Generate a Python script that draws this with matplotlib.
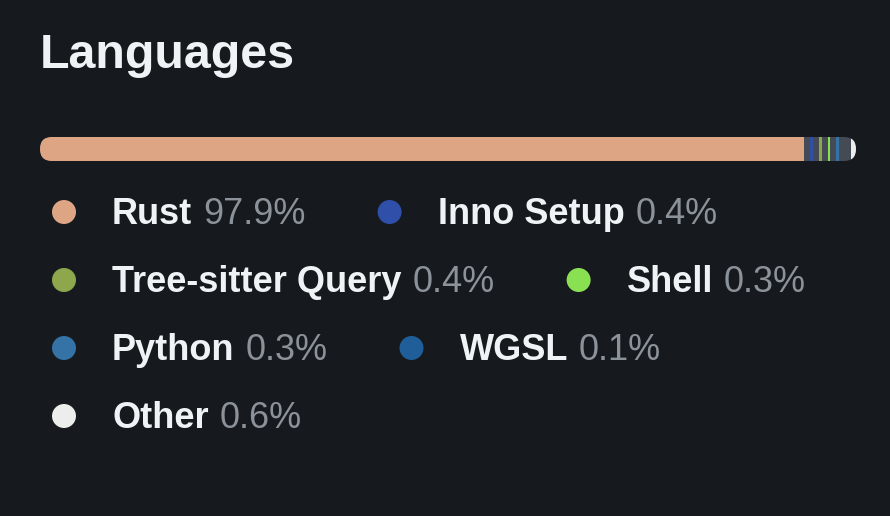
import matplotlib
matplotlib.use("Agg")
import matplotlib.pyplot as plt
from matplotlib.patches import FancyBboxPatch, Circle

plt.rcParams['font.family'] = ['Liberation Sans', 'DejaVu Sans']

# data
languages = ['Rust', 'Inno Setup', 'Tree-sitter Query', 'Shell', 'Python', 'WGSL', 'Other']
percents = [97.9, 0.4, 0.4, 0.3, 0.3, 0.1, 0.6]
colors = ['#dea584', '#2f4fa8', '#8ea64c', '#89e051', '#3572a5', '#1f5e98', '#ededed']
rows = [[0, 1], [2, 3], [4, 5], [6]]

BG = '#16191d'
TRACK = '#454b54'
NAME_C = '#f0f3f6'
PCT_C = '#8b929a'

W, H = 890, 516
fig = plt.figure(figsize=(W / 100, H / 100), dpi=100, facecolor=BG)
ax = fig.add_axes([0, 0, 1, 1])
ax.set_xlim(0, W)
ax.set_ylim(H, 0)
ax.axis('off')
ax.set_facecolor(BG)

ax.text(40, 68, 'Languages', fontsize=34.8, fontweight='bold', color=NAME_C, va='baseline')

# progress bar
bx0, bx1, by, bh = 40, 856, 149, 24
gap = 6
track = FancyBboxPatch((bx0, by - bh / 2), bx1 - bx0, bh,
                       boxstyle='round,pad=0,rounding_size=12',
                       fc=TRACK, ec='none', mutation_aspect=1)
ax.add_patch(track)
usable = (bx1 - bx0) - gap * (len(percents) - 1)
left = bx0
for p, c in zip(percents, colors):
    w = usable * p / 100.0
    seg = ax.barh(by, w, height=bh, left=left, color=c, linewidth=0)
    for r in seg:
        r.set_clip_path(track)
    left += w + gap

# legend
fig.canvas.draw()
renderer = fig.canvas.get_renderer()
fs = 26
for ri, row in enumerate(rows):
    base = 224 + ri * 68
    cx = 64
    for i in row:
        ax.add_patch(Circle((cx, base - 12), 12, color=colors[i], lw=0))
        t = ax.text(cx + 48, base, languages[i], fontsize=fs, fontweight='bold',
                    color=NAME_C, va='baseline')
        bb = t.get_window_extent(renderer)
        t2 = ax.text(bb.x1 + 11, base, f'{percents[i]}%', fontsize=fs,
                     color=PCT_C, va='baseline')
        bb2 = t2.get_window_extent(renderer)
        cx = bb2.x1 + 84

fig.savefig('out.png', dpi=100, facecolor=BG)
